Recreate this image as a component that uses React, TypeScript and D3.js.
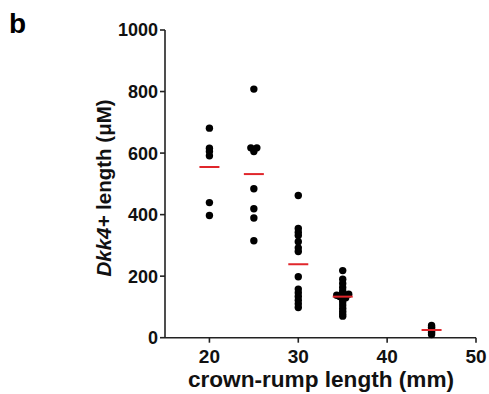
import React from "react";
import * as d3 from "d3";

const groupX: number[] = [20, 25, 30, 35, 45];
const g20: number[] = [681, 616, 605, 591, 439, 397];
const g25: number[] = [808, 617, 617, 605, 484, 419, 389, 315];
const g30: number[] = [462, 355, 343, 332, 312, 292, 280, 198, 158, 146, 134, 122, 110, 98];
const g35: number[] = [218, 190, 176, 163, 152, 145, 141, 140, 138, 134, 130, 124, 116, 106, 96, 86, 77, 70];
const g45: number[] = [40, 34, 28, 22, 16, 10];
const groups: number[][] = [g20, g25, g30, g35, g45];
const xTicks: number[] = [20, 30, 40, 50];
const yTicks: number[] = [0, 200, 400, 600, 800, 1000];

const W = 489, H = 394;
const x = d3.scaleLinear().domain([15, 50]).range([165, 476]);
const y = d3.scaleLinear().domain([0, 1000]).range([337.7, 30]);
const R = 3.7;
const FONT = "'Liberation Sans', Arial, Helvetica, sans-serif";

function swarm(vals: number[], cx: number) {
  const placed: { px: number; py: number; o: number }[] = [];
  const sorted = [...vals].sort((a, b) => b - a);
  const minD = 1.5;
  const step = 6;
  for (const v of sorted) {
    const py = y(v);
    const offs = [0];
    for (let i = 1; i < 6; i++) { offs.push(i * step, -i * step); }
    let off = 0;
    for (const o of offs) {
      const cand = cx + o;
      const ok = placed.every(p => Math.hypot(p.px - cand, p.py - py) >= minD);
      if (ok) { off = o; break; }
    }
    placed.push({ px: cx + off, py, o: off });
  }
  // centre a pair that sits side by side (0 and +step) with no partner on the left
  for (const p of placed) {
    if (p.o === 6) {
      const band = placed.filter(q => Math.abs(q.py - p.py) < 1.5);
      if (!band.some(q => q.o < 0)) band.forEach(q => { q.px -= 3; });
    }
  }
  return placed;
}

export default function App() {
  return (
    <svg width={W} height={H} style={{ display: "block", position: "absolute", left: 0, top: 0 }}>
      <rect width={W} height={H} fill="#fff" />
      <text x={9} y={33} fontFamily={FONT} fontWeight="bold" fontSize={28}>b</text>
      {/* y axis */}
      <line x1={x(15)} x2={x(15)} y1={y(1000)} y2={y(0)} stroke="#222" strokeWidth={1.6} />
      {yTicks.map(t => (
        <g key={t}>
          <line x1={x(15) - 5} x2={x(15)} y1={y(t)} y2={y(t)} stroke="#222" strokeWidth={1.6} />
          <text x={x(15) - 7} y={y(t)} dy="0.36em" textAnchor="end" fontFamily={FONT} fontWeight="bold" fontSize={18} fill="#111">{t}</text>
        </g>
      ))}
      {/* x axis */}
      <line x1={x(15)} x2={x(50)} y1={y(0)} y2={y(0)} stroke="#222" strokeWidth={1.6} />
      {xTicks.map(t => (
        <g key={t}>
          <line x1={x(t)} x2={x(t)} y1={y(0)} y2={y(0) + 5} stroke="#222" strokeWidth={1.6} />
          <text x={x(t)} y={362.5} textAnchor="middle" fontFamily={FONT} fontWeight="bold" fontSize={19} fill="#111">{t}</text>
        </g>
      ))}
      <text x={(187 + 455) / 2} y={386.5} textAnchor="middle" fontFamily={FONT} fontWeight="bold" fontSize={22.6} fill="#111">crown-rump length (mm)</text>
      <text transform={`translate(111,${188}) rotate(-90)`} textAnchor="middle" fontFamily={FONT} fontWeight="bold" fontSize={20.5} fill="#111">
        <tspan fontStyle="italic">Dkk4+</tspan> length (μM)
      </text>
      {groups.map((vals, gi) => {
        const cx = x(groupX[gi]);
        const pts = swarm(vals, cx);
        const mean = d3.mean(vals) as number;
        return (
          <g key={gi}>
            {pts.map((p, i) => <circle key={i} cx={p.px} cy={p.py} r={R} fill="#000" />)}
            <line x1={cx - 10} x2={cx + 10} y1={y(mean)} y2={y(mean)} stroke="#e0262b" strokeWidth={2} />
          </g>
        );
      })}
    </svg>
  );
}
